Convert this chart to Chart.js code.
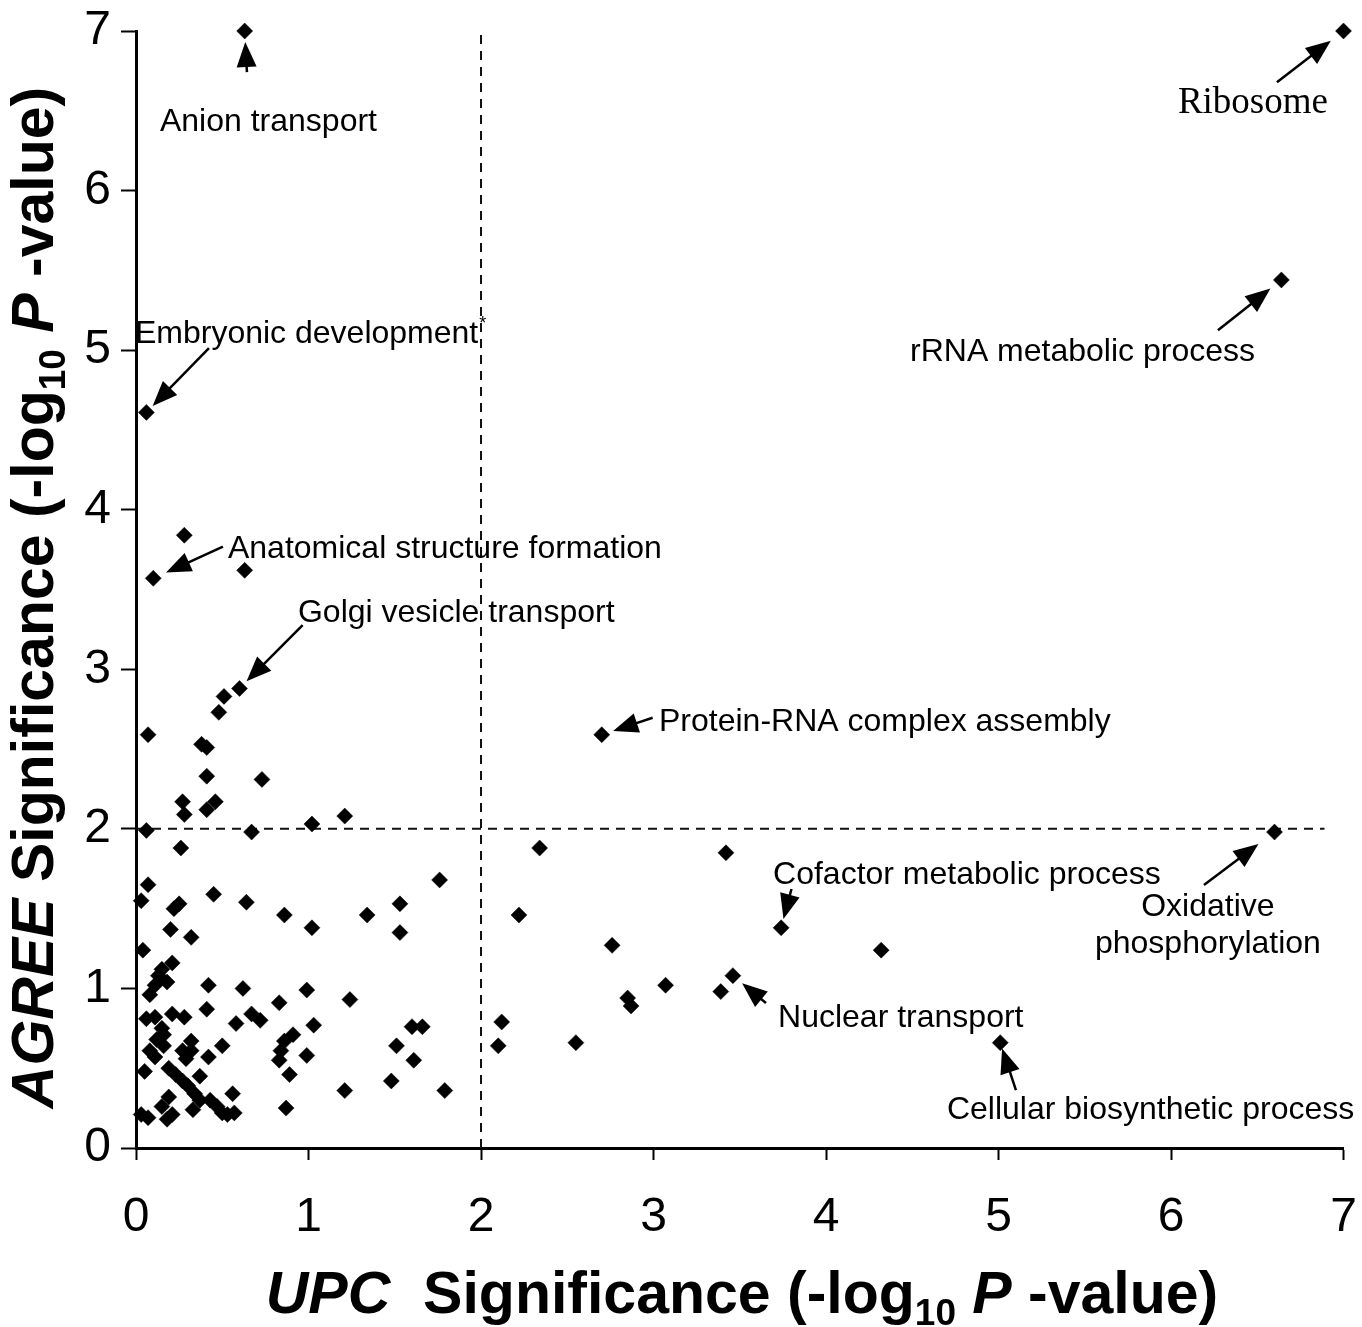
<!DOCTYPE html>
<html>
<head>
<meta charset="utf-8">
<script src="https://cdn.jsdelivr.net/npm/chart.js@4.4.0/dist/chart.umd.min.js"></script>
<style>
  html, body { margin: 0; padding: 0; background: #fff; }
  #wrap { width: 1362px; height: 1327px; position: relative; }
</style>
</head>
<body>
<div id="wrap"><canvas id="chart"></canvas></div>
<script>
// ===== DATA =====
// GO categories: UPC vs AGREE significance (-log10 P). First 11 are the labelled ones.
const upcSig = [
  0.63, 7.0, 6.64, 0.06, 0.10, 0.60, 2.70, 3.74, 3.46, 6.60, 5.01,
  0.28, 0.63, 0.51, 0.48, 0.07, 0.38, 0.41, 0.41, 0.73, 0.27, 0.28, 0.41, 0.46,
  0.06, 0.67, 1.02, 1.21,
  0.26, 0.07, 0.03, 0.45, 0.22, 0.25, 0.64, 0.86, 1.02, 1.34, 1.53, 1.53, 1.76,
  2.34, 2.22, 3.42, 2.76, 4.32, 3.39, 3.07, 2.85, 2.87, 2.12, 2.10, 2.55,
  0.20, 0.32, 0.04, 0.21, 0.15, 0.13, 0.18, 0.11, 0.08, 0.42, 0.62, 0.99, 1.24,
  0.83, 0.41, 0.06, 0.11, 0.21, 0.28, 0.58, 0.67, 0.72, 1.03, 1.60, 1.66, 1.51,
  1.61, 0.91, 0.86, 0.84, 0.83, 0.99, 0.89, 0.87, 1.21, 1.48, 1.79,
  0.15, 0.16, 0.12, 0.08, 0.11, 0.16, 0.32, 0.27, 0.29, 0.32, 0.50, 0.42, 0.05,
  0.19, 0.23, 0.27, 0.30, 0.34, 0.37, 0.56, 0.37, 0.43, 0.47, 0.50, 0.53, 0.57,
  0.19, 0.15, 0.21, 0.18, 0.03, 0.07, 0.33
];
const agreeSig = [
  7.0, 7.0, 5.44, 4.61, 3.57, 2.88, 2.59, 1.38, 1.08, 1.98, 0.66,
  3.84, 3.62, 2.83, 2.73, 2.59, 2.53, 2.51, 2.33, 2.31, 2.17, 2.09, 2.12, 2.17,
  1.99, 1.98, 2.03, 2.08,
  1.88, 1.65, 1.55, 1.59, 1.50, 1.53, 1.54, 1.46, 1.38, 1.46, 1.53, 1.35, 1.68,
  1.88, 1.46, 1.85, 1.27, 1.24, 0.98, 1.02, 0.94, 0.89, 0.79, 0.64, 0.66,
  1.37, 1.32, 1.24, 1.16, 1.12, 1.08, 1.04, 1.02, 0.96, 1.02, 1.00, 0.99, 0.93,
  0.91, 0.87, 0.81, 0.82, 0.84, 0.82, 0.78, 0.84, 0.80, 0.77, 0.76, 0.76, 0.64,
  0.55, 0.71, 0.67, 0.61, 0.55, 0.58, 0.46, 0.25, 0.36, 0.42, 0.36,
  0.75, 0.71, 0.68, 0.61, 0.57, 0.64, 0.67, 0.61, 0.56, 0.61, 0.64, 0.57, 0.48,
  0.50, 0.46, 0.42, 0.39, 0.34, 0.45, 0.34, 0.30, 0.30, 0.26, 0.22, 0.21, 0.22,
  0.32, 0.26, 0.21, 0.18, 0.21, 0.19, 0.24
];
const xTicks = [0, 1, 2, 3, 4, 5, 6, 7];
const yTicks = [0, 1, 2, 3, 4, 5, 6, 7];
const cutoffUpc = 2;
const cutoffAgree = 2;
const cutoffLineEnd = 6.89;   // horizontal cut-off stops a bit before x = 7

// ===== ANNOTATIONS =====
// point = index in the arrays above; at = label anchor, tail = arrow start (axis units)
const notes = [
  { point: 0, text: ['Anion transport'], at: [0.139, 6.447], tail: [0.643, 6.742], gap: 11 },
  { point: 1, text: ['Ribosome'], at: [6.04, 6.56], tail: [6.614, 6.679], gap: 16, serif: true },
  { point: 2, text: ['rRNA metabolic process'], at: [4.487, 5.006], tail: [6.272, 5.125], gap: 14 },
  { point: 3, text: ['Embryonic development'], sup: '*', at: [-0.006, 5.119], tail: [0.423, 5.013], gap: 9 },
  { point: 4, text: ['Anatomical structure formation'], at: [0.533, 3.772], tail: [0.504, 3.768], gap: 14 },
  { point: 5, text: ['Golgi vesicle transport'], at: [0.939, 3.365], tail: [0.966, 3.277], gap: 10 },
  { point: 6, text: ['Protein-RNA complex assembly'], at: [3.032, 2.682], tail: [2.995, 2.696], gap: 12 },
  { point: 7, text: ['Cofactor metabolic process'], at: [3.693, 1.729], tail: [3.80, 1.623], gap: 9 },
  { point: 8, text: ['Nuclear transport'], at: [3.722, 0.833], tail: [3.652, 0.909], gap: 12 },
  { point: 9, text: ['Oxidative', 'phosphorylation'], at: [6.214, 1.523], tail: [6.191, 1.648], gap: 20, align: 'center' },
  { point: 10, text: ['Cellular biosynthetic process'], at: [4.701, 0.251], tail: [5.101, 0.363], gap: 6 }
];

const SANS = '"Liberation Sans", Arial, Helvetica, sans-serif';
const SERIF = '"Liberation Serif", "Times New Roman", serif';

function drawArrow(ctx, x0, y0, x1, y1, gap) {
  const dx = x1 - x0, dy = y1 - y0;
  const len = Math.hypot(dx, dy);
  const ux = dx / len, uy = dy / len;
  const tipX = x1 - ux * gap, tipY = y1 - uy * gap;
  const head = 25, half = 10;
  const bx = tipX - ux * head, by = tipY - uy * head;
  ctx.beginPath();
  ctx.moveTo(x0, y0);
  ctx.lineTo(bx + ux * 2, by + uy * 2);
  ctx.lineWidth = 2.5;
  ctx.strokeStyle = '#000';
  ctx.stroke();
  ctx.beginPath();
  ctx.moveTo(tipX, tipY);
  ctx.lineTo(bx - uy * half, by + ux * half);
  ctx.lineTo(bx + uy * half, by - ux * half);
  ctx.closePath();
  ctx.fillStyle = '#000';
  ctx.fill();
}

// rich title: runs of text with italic / subscript parts, centred on (0,0) baseline
function drawRuns(ctx, runs, size) {
  const fontFor = r => `${r.it ? 'italic ' : ''}bold ${r.sub ? Math.round(size * 0.62) : size}px ${SANS}`;
  let total = 0;
  runs.forEach(r => { ctx.font = fontFor(r); r.w = ctx.measureText(r.t).width; total += r.w; });
  let x = -total / 2;
  ctx.textBaseline = 'alphabetic';
  ctx.textAlign = 'left';
  runs.forEach(r => {
    ctx.font = fontFor(r);
    ctx.fillText(r.t, x, r.sub ? size * 0.2 : 0);
    x += r.w;
  });
}

const annotate = {
  id: 'annotate',
  afterDatasetsDraw(chart) {
    const { ctx, scales: { x, y } } = chart;
    ctx.save();
    notes.forEach(n => {
      const px = x.getPixelForValue(upcSig[n.point]);
      const py = y.getPixelForValue(agreeSig[n.point]);
      drawArrow(ctx, x.getPixelForValue(n.tail[0]), y.getPixelForValue(n.tail[1]), px, py, n.gap);

      const size = n.serif ? 37 : 32;
      const cap = n.serif ? 0.662 : 0.716;
      ctx.font = `${size}px ${n.serif ? SERIF : SANS}`;
      ctx.fillStyle = '#000';
      ctx.textAlign = n.align || 'left';
      ctx.textBaseline = 'alphabetic';
      const lx = x.getPixelForValue(n.at[0]);
      const ly = y.getPixelForValue(n.at[1]) + size * cap / 2;
      n.text.forEach((line, i) => {
        ctx.fillText(line, lx, ly + i * 37);
        if (n.sup && i === n.text.length - 1) {
          const w = ctx.measureText(line).width;
          ctx.font = `18px ${SANS}`;
          ctx.fillText(n.sup, lx + w + 1, ly + i * 37 - 14);
          ctx.font = `${size}px ${SANS}`;
        }
      });
    });
    ctx.restore();
  },
  afterDraw(chart) {
    const { ctx, chartArea } = chart;
    const size = 59;
    ctx.save();
    ctx.fillStyle = '#000';
    // x title
    ctx.save();
    ctx.translate(742, 1313);
    drawRuns(ctx, [
      { t: 'UPC', it: true }, { t: '  Significance (-log' }, { t: '10', sub: true },
      { t: ' ' }, { t: 'P', it: true }, { t: ' -value)' }
    ], size);
    ctx.restore();
    // y title
    ctx.save();
    ctx.translate(53, (chartArea.top + chartArea.bottom) / 2 + 8);
    ctx.rotate(-Math.PI / 2);
    drawRuns(ctx, [
      { t: 'AGREE', it: true }, { t: ' Significance (-log' }, { t: '10', sub: true },
      { t: ' ' }, { t: 'P', it: true }, { t: ' -value)' }
    ], size);
    ctx.restore();
    ctx.restore();
  }
};

const points = upcSig.map((v, i) => ({ x: v, y: agreeSig[i] }));

new Chart(document.getElementById('chart'), {
  type: 'scatter',
  data: {
    datasets: [
      {
        data: points,
        pointStyle: 'rectRot',
        pointRadius: 8,
        pointBorderWidth: 0.5,
        backgroundColor: '#000',
        borderColor: '#000',
        clip: false
      },
      {
        type: 'line',
        data: [{ x: cutoffUpc, y: 0 }, { x: cutoffUpc, y: 7 }],
        borderColor: '#111',
        borderWidth: 2,
        borderDash: [9, 7],
        pointRadius: 0,
        fill: false
      },
      {
        type: 'line',
        data: [{ x: 0, y: cutoffAgree }, { x: cutoffLineEnd, y: cutoffAgree }],
        borderColor: '#111',
        borderWidth: 2,
        borderDash: [9, 7],
        pointRadius: 0,
        fill: false
      }
    ]
  },
  options: {
    responsive: true,
    maintainAspectRatio: false,
    animation: false,
    events: [],
    layout: { padding: { top: 31, right: 18.5, left: 0, bottom: 0 } },
    plugins: { legend: { display: false }, tooltip: { enabled: false } },
    scales: {
      x: {
        type: 'linear', min: 0, max: 7,
        afterBuildTicks: s => { s.ticks = xTicks.map(v => ({ value: v })); },
        afterFit: s => { s.height = 179; s.paddingLeft = 0; s.paddingRight = 0; },
        border: { display: true, color: '#000', width: 3 },
        grid: { drawOnChartArea: false, drawTicks: true, tickLength: 12, tickColor: '#000', tickWidth: 2 },
        ticks: { color: '#000', padding: 29, maxRotation: 0, font: { family: SANS, size: 48 } }
      },
      y: {
        type: 'linear', min: 0, max: 7,
        afterBuildTicks: s => { s.ticks = yTicks.map(v => ({ value: v })); },
        afterFit: s => { s.width = 136; s.paddingTop = 0; s.paddingBottom = 0; },
        border: { display: true, color: '#000', width: 3 },
        grid: { drawOnChartArea: false, drawTicks: true, tickLength: 15, tickColor: '#000', tickWidth: 2 },
        ticks: { color: '#000', padding: 10, font: { family: SANS, size: 48 } }
      }
    }
  },
  plugins: [annotate]
});
</script>
</body>
</html>
